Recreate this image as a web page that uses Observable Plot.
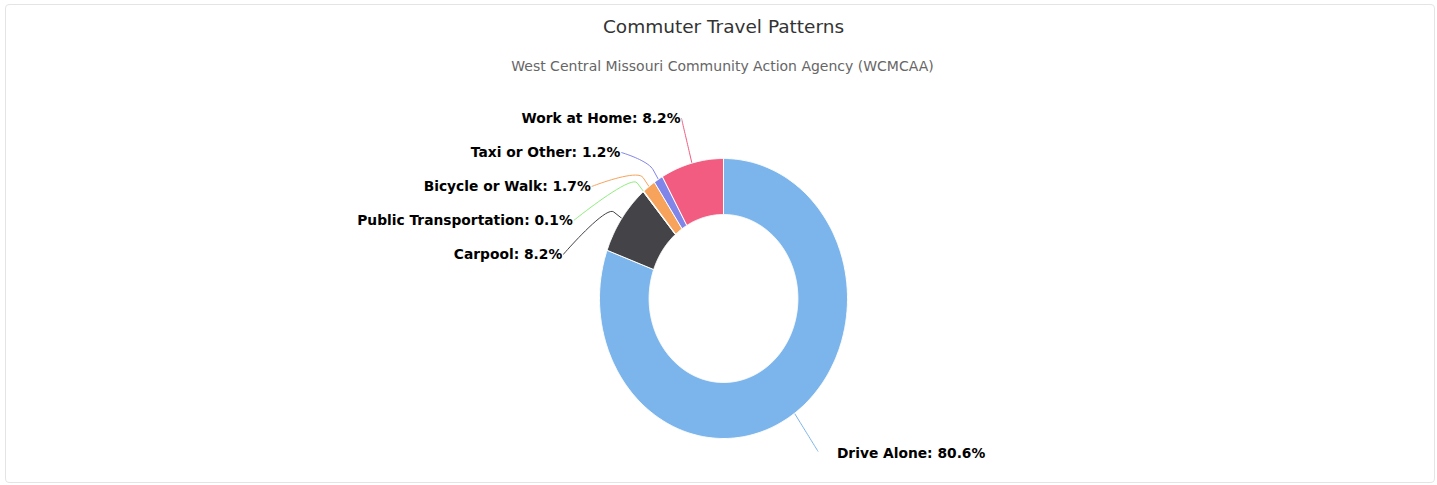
<!DOCTYPE html>
<html>
<head>
<meta charset="utf-8">
<script src="https://cdn.jsdelivr.net/npm/d3@7"></script>
<script src="https://cdn.jsdelivr.net/npm/@observablehq/plot@0.6"></script>
<style>
  html, body { margin: 0; padding: 0; background: #fff; }
  #frame { position: absolute; left: 5px; top: 4px; width: 1430px; height: 479px; border: 1px solid #e4e4e4; border-radius: 4px; box-sizing: border-box; }
  #title { position: absolute; left: 0; width: 1447px; top: 14px; text-align: center; font-family: "DejaVu Sans", sans-serif; font-size: 18.5px; line-height: 26px; color: #333; }
  #subtitle { position: absolute; left: 0; width: 1445px; top: 56px; text-align: center; font-family: "DejaVu Sans", sans-serif; font-size: 14px; line-height: 20px; color: #666; }
  #chart { position: absolute; left: 0; top: 80px; }
</style>
</head>
<body>
<div id="frame"></div>
<div id="title">Commuter Travel Patterns</div>
<div id="subtitle">West Central Missouri Community Action Agency (WCMCAA)</div>
<div id="chart"></div>
<script>
// ---- data ----
const categories = ["Drive Alone", "Carpool", "Public Transportation", "Bicycle or Walk", "Taxi or Other", "Work at Home"];
const percents = [80.6, 8.2, 0.1, 1.7, 1.2, 8.2];
const palette = ["#7cb5ec", "#434348", "#90ed7d", "#f7a35c", "#8085e9", "#f15c80"];

// ---- layout ----
const W = 1437, H = 400;
const CX = 723, CY = 218;       // donut centre in svg pixels
const RX = 124, RY = 140;       // outer radii in pixels (the reference is slightly squeezed)
const INNER = 0.6;              // inner size 60%
const K = 1.33;                 // label radius factor (vertical)
const KX = 1.33;                // label radius factor (horizontal)
const SPACING = 34 / RY;        // vertical label spacing in units

// slices (angles clockwise from 12 o'clock)
const total = d3.sum(percents);
let acc = 0;
const slices = categories.map((name, i) => {
  const a0 = acc / total * 2 * Math.PI;
  acc += percents[i];
  const a1 = acc / total * 2 * Math.PI;
  return {name, value: percents[i], a0, a1, mid: (a0 + a1) / 2};
});

const slicePts = [];
for (const s of slices) {
  const n = Math.max(2, Math.ceil((s.a1 - s.a0) / (Math.PI / 360)));
  const pts = [];
  for (let j = 0; j <= n; j++) {
    const a = s.a0 + (s.a1 - s.a0) * j / n;
    pts.push({name: s.name, x: Math.sin(a), y: Math.cos(a)});
  }
  for (let j = n; j >= 0; j--) {
    const a = s.a0 + (s.a1 - s.a0) * j / n;
    pts.push({name: s.name, x: INNER * Math.sin(a), y: INNER * Math.cos(a)});
  }
  pts.push({...pts[0]});
  slicePts.push(...pts);
}

// labels: natural position on label ellipse, then pushed apart
const labels = slices.map(s => ({...s, left: Math.sin(s.mid) < 0, ny: K * Math.cos(s.mid)}));
for (const side of [true, false]) {
  const g = labels.filter(d => d.left === side).sort((a, b) => b.ny - a.ny);
  let prev = Infinity;
  for (const d of g) { d.ly = Math.min(d.ny, prev - SPACING); prev = d.ly; }
}
for (const d of labels) {
  const t = Math.min(1, Math.abs(d.ly) / K);
  d.lx = (d.left ? -1 : 1) * KX * Math.sqrt(1 - t * t);
}

// connectors (soft bezier like Highcharts)
const connPts = [];
for (const d of labels) {
  const E = [Math.sin(d.mid), Math.cos(d.mid)];
  const B = [E[0] * 1.08, E[1] * 1.08];
  const P0 = [d.lx, d.ly], C1 = [d.lx, d.ly], C2 = [2 * B[0] - E[0], 2 * B[1] - E[1]], P3 = B;
  for (let i = 0; i <= 20; i++) {
    const t = i / 20, mt = 1 - t;
    const x = mt*mt*mt*P0[0] + 3*mt*mt*t*C1[0] + 3*mt*t*t*C2[0] + t*t*t*P3[0];
    const y = mt*mt*mt*P0[1] + 3*mt*mt*t*C1[1] + 3*mt*t*t*C2[1] + t*t*t*P3[1];
    connPts.push({name: d.name, x, y});
  }
  connPts.push({name: d.name, x: E[0], y: E[1]});
}

const fmt = d => `${d.name}: ${d.value}%`;
const textStyle = {fontFamily: "DejaVu Sans, sans-serif", fontWeight: "bold", fontSize: 13.8, fill: "#000", stroke: "#fff", strokeWidth: 2.5};

const chart = Plot.plot({
  width: W, height: H,
  margin: 0,
  x: {domain: [-CX / RX, (W - CX) / RX], range: [0, W], axis: null},
  y: {domain: [-(H - CY) / RY, CY / RY], range: [H, 0], axis: null},
  color: {domain: categories, range: palette},
  style: {background: "transparent"},
  marks: [
    Plot.line(connPts, {x: "x", y: "y", z: "name", stroke: "name", strokeWidth: 1, curve: "linear"}),
    Plot.line(slicePts, {x: "x", y: "y", z: "name", fill: "name", stroke: "#fff", strokeWidth: 1, curve: "linear"}),
    Plot.text(labels.filter(d => d.left), {x: "lx", y: "ly", text: fmt, textAnchor: "end", dx: -1, ...textStyle}),
    Plot.text(labels.filter(d => !d.left), {x: "lx", y: "ly", text: fmt, textAnchor: "start", dx: 19, dy: 2, ...textStyle})
  ]
});
document.getElementById("chart").appendChild(chart);
</script>
</body>
</html>
